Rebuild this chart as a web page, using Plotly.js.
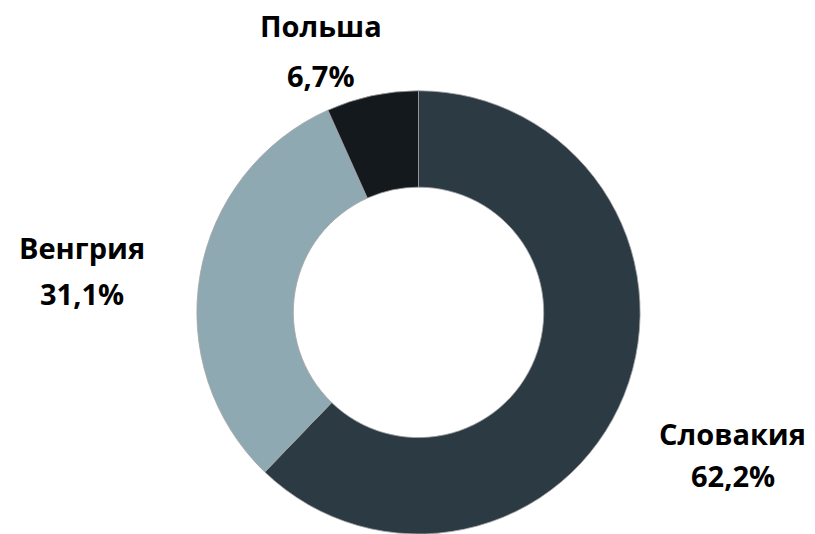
<!DOCTYPE html>
<html>
<head>
<meta charset="utf-8">
<script src="https://cdn.plot.ly/plotly-3.0.1.min.js"></script>
<style>html,body{margin:0;padding:0;background:#fff;}#chart{width:815px;height:534px;}</style>
</head>
<body>
<div id="chart"></div>
<script>
const countries = ["Словакия", "Венгрия", "Польша"];
const shares = [62.2, 31.1, 6.7];
const shareLabels = ["62,2%", "31,1%", "6,7%"];
const colors = ["#2C3A43", "#8FA9B3", "#14191D"];

// label anchor positions (paper fractions) for name and value lines
const labelX = [0.899, 0.101, 0.394];
const nameY = [1 - 433/534, 1 - 247/534, 1 - 25/534];
const valueY = [1 - 475/534, 1 - 293/534, 1 - 75/534];

const font = {family: "Open Sans, sans-serif", size: 29, color: "#000"};
const annotations = [];
countries.forEach((c, i) => {
  annotations.push({text: "<b>" + c + "</b>", x: labelX[i], y: nameY[i], xref: "paper", yref: "paper",
    xanchor: "center", yanchor: "middle", showarrow: false, font: font});
  annotations.push({text: "<b>" + shareLabels[i] + "</b>", x: labelX[i], y: valueY[i], xref: "paper", yref: "paper",
    xanchor: "center", yanchor: "middle", showarrow: false, font: font});
});

Plotly.newPlot("chart", [{
  type: "pie",
  labels: countries,
  values: shares,
  hole: 0.565,
  sort: false,
  direction: "clockwise",
  rotation: 0,
  textinfo: "none",
  marker: {colors: colors, line: {color: "rgba(165,165,165,0.8)", width: 1}},
  domain: {x: [196.5/815, 640.5/815], y: [0, 0.83]},
  showlegend: false
}], {
  width: 815, height: 534,
  margin: {l: 0, r: 0, t: 0, b: 0},
  paper_bgcolor: "#fff",
  showlegend: false,
  annotations: annotations
}, {displayModeBar: false, staticPlot: true});
</script>
</body>
</html>
